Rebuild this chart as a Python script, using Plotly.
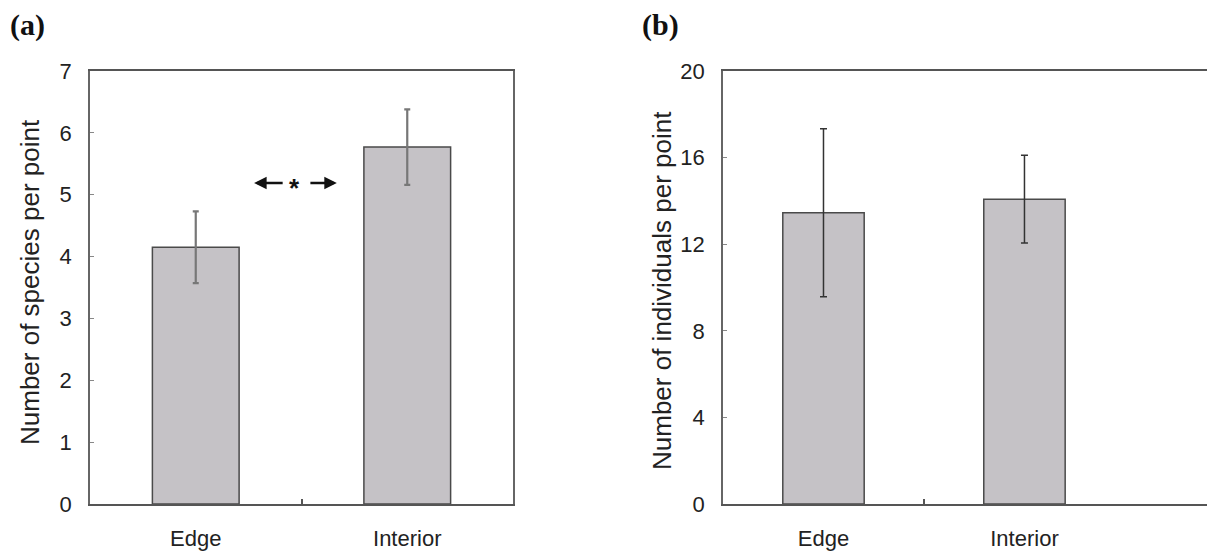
import plotly.graph_objects as go

# ---- data ----
categories = ["Edge", "Interior"]
species_mean = [4.15, 5.77]
species_err = [0.58, 0.61]
individuals_mean = [13.45, 14.08]
individuals_err = [3.88, 2.03]
species_ticks = [0, 1, 2, 3, 4, 5, 6, 7]
individuals_ticks = [0, 4, 8, 12, 16, 20]
signif_level = 5.19          # height of the "← * →" marker (panel a, data units)
signif_text = "*"

# the page has an 8px body margin, so the figure is drawn 8px smaller
OFF = 8
W, H = 1215 - OFF, 551 - OFF
FONT = "Arial, Liberation Sans, sans-serif"
SERIF = "Liberation Serif, Times New Roman, serif"
BAR_FILL = "#c5c2c6"
BAR_LINE = "#4a4a4a"


def px(x):
    return (x - OFF) / W


def py(y):
    return 1 - (y - OFF) / H


xpos = list(range(len(categories)))

fig = go.Figure()
fig.add_trace(go.Bar(
    x=xpos, y=species_mean, width=0.41,
    marker=dict(color=BAR_FILL, line=dict(color=BAR_LINE, width=1.5)),
    error_y=dict(type="data", array=species_err, color="#777777", thickness=2.2, width=3),
    xaxis="x", yaxis="y", showlegend=False,
))
fig.add_trace(go.Bar(
    x=xpos, y=individuals_mean, width=0.405,
    marker=dict(color=BAR_FILL, line=dict(color=BAR_LINE, width=1.5)),
    error_y=dict(type="data", array=individuals_err, color="#333333", thickness=1.5, width=3.5),
    xaxis="x2", yaxis="y2", showlegend=False,
))

ydom = [py(504), py(71)]
common_x = dict(
    tickmode="array", tickvals=xpos, ticktext=categories, ticks="",
    showline=True, linecolor="#555555", linewidth=1.5, mirror=True,
    showgrid=False, zeroline=False, ticklabelstandoff=14, automargin=False,
    tickfont=dict(family=FONT, size=22, color="#222222"),
    minor=dict(tickmode="array", tickvals=[0.5], ticks="inside", ticklen=5,
               tickcolor="#555555", tickwidth=1.5, showgrid=False),
)
common_y = dict(
    ticks="inside", ticklen=4, tickcolor="#888888", tickwidth=1,
    showline=True, linecolor="#666666", linewidth=1.5, automargin=False,
    showgrid=False, zeroline=False, ticklabelstandoff=12,
    tickfont=dict(family=FONT, size=22, color="#222222"),
)

fig.update_layout(
    width=W, height=H,
    margin=dict(l=0, r=0, t=0, b=0, autoexpand=False),
    paper_bgcolor="white", plot_bgcolor="white",
    showlegend=False,
    xaxis=dict(common_x, domain=[px(90), px(513)], range=[-0.5, 1.5], anchor="y"),
    yaxis=dict(common_y, domain=ydom, range=[0, 7], tickvals=species_ticks, mirror=True, anchor="x"),
    xaxis2=dict(common_x, domain=[px(723), 1.0], range=[-0.5, 1.948], anchor="y2"),
    yaxis2=dict(common_y, domain=ydom, range=[0, 20], tickvals=individuals_ticks, anchor="x2"),
)

ann = []
for label, xc in (("(a)", 27), ("(b)", 660)):
    ann.append(dict(text="<b>" + label + "</b>", x=px(xc), y=py(25), xref="paper", yref="paper",
                    xanchor="center", yanchor="middle", showarrow=False,
                    font=dict(family=SERIF, size=30, color="#111111")))
ann.append(dict(text="Number of species per point", textangle=-90, x=px(30), y=py(282),
                xref="paper", yref="paper", xanchor="center", yanchor="middle", showarrow=False,
                font=dict(family=FONT, size=26, color="#222222")))
ann.append(dict(text="Number of individuals per point", textangle=-90, x=px(662), y=py(291),
                xref="paper", yref="paper", xanchor="center", yanchor="middle", showarrow=False,
                font=dict(family=FONT, size=26, color="#222222")))
# significance marker
ann.append(dict(text="<b>" + signif_text + "</b>", x=0.465, y=signif_level, xref="x", yref="y",
                xanchor="center", yanchor="middle",
                showarrow=False, yshift=-5, font=dict(family=FONT, size=26, color="#111111")))
ann.append(dict(text="", x=0.276, y=signif_level, ax=0.418, ay=signif_level, xref="x", yref="y",
                axref="x", ayref="y", showarrow=True, arrowhead=2, arrowsize=1, arrowwidth=2.5,
                arrowcolor="#111111"))
ann.append(dict(text="", x=0.667, y=signif_level, ax=0.535, ay=signif_level, xref="x", yref="y",
                axref="x", ayref="y", showarrow=True, arrowhead=2, arrowsize=1, arrowwidth=2.5,
                arrowcolor="#111111"))
fig.update_layout(annotations=ann)

fig.write_html("out.html")
